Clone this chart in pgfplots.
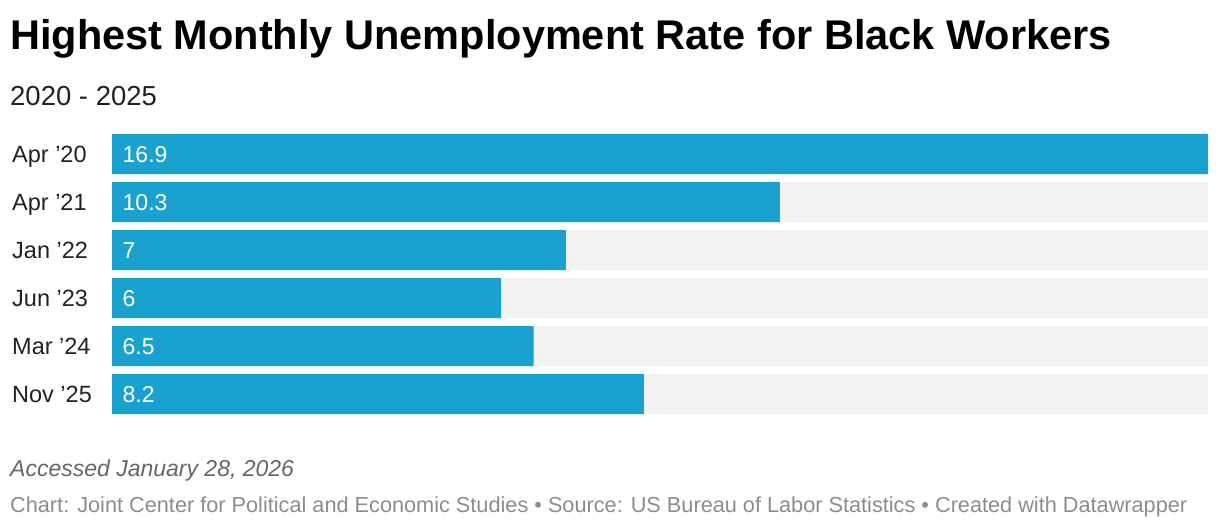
\documentclass[border=0pt]{standalone}
\usepackage{pgfplots}
\pgfplotsset{compat=1.18}
\usepackage{fontspec}
\setmainfont{Liberation Sans}
\definecolor{barblue}{HTML}{1AA1CE}
\definecolor{bargray}{HTML}{F2F2F2}
\definecolor{txt}{HTML}{222222}
\definecolor{foot1}{HTML}{666666}
\definecolor{foot2}{HTML}{8C8C8C}
\begin{document}
\begin{tikzpicture}[x=1pt,y=1pt]
\path[use as bounding box] (0,0) rectangle (1220,528);
\node[anchor=base west, inner sep=0pt, font=\fontsize{41.5}{44}\selectfont\bfseries] at (10,478) {Highest Monthly Unemployment Rate for Black Workers};
\node[anchor=base west, inner sep=0pt, font=\fontsize{27.5}{30}\selectfont, text=txt] at (10,422) {2020 - 2025};
\node[anchor=base west, inner sep=0pt, font=\fontsize{23}{26}\selectfont\itshape, text=foot1] at (10,52) {Accessed January 28, 2026};
\node[anchor=base west, inner sep=0pt, font=\fontsize{21.7}{24}\selectfont, text=foot2] at (10,16) {Chart: Joint Center for Political and Economic Studies • Source: US Bureau of Labor Statistics • Created with Datawrapper};
\begin{axis}[
  at={(112pt,110pt)}, anchor=south west,
  width=1096pt, height=288pt, scale only axis,
  xmin=0, xmax=16.9, ymin=-0.5, ymax=5.5, y dir=reverse,
  axis line style={draw=none}, clip=false,
  xtick=\empty,
  xbar, bar width=40pt, bar shift=0pt,
  ytick={0,1,2,3,4,5},
  yticklabels={Apr ’20, Apr ’21, Jan ’22, Jun ’23, Mar ’24, Nov ’25},
  yticklabel style={anchor=base west, inner sep=0pt, xshift=-100pt, yshift=-8pt, font=\fontsize{23.5}{26}\selectfont, text=txt},
  major tick length=0pt, tick style={draw=none},
]
\addplot[fill=bargray, draw=none] coordinates {(16.9,0) (16.9,1) (16.9,2) (16.9,3) (16.9,4) (16.9,5)};
\addplot[fill=barblue, draw=none] coordinates {(16.9,0) (10.3,1) (7,2) (6,3) (6.5,4) (8.2,5)};
\addplot[xbar=false, draw=none, mark=none, nodes near coords, point meta=explicit symbolic,
  nodes near coords style={anchor=base west, text=white, inner sep=0pt, xshift=10.5pt, yshift=-8pt, font=\fontsize{23}{25}\selectfont}]
  coordinates {(0,0) [16.9] (0,1) [10.3] (0,2) [7] (0,3) [6] (0,4) [6.5] (0,5) [8.2]};
\end{axis}
\end{tikzpicture}
\end{document}
